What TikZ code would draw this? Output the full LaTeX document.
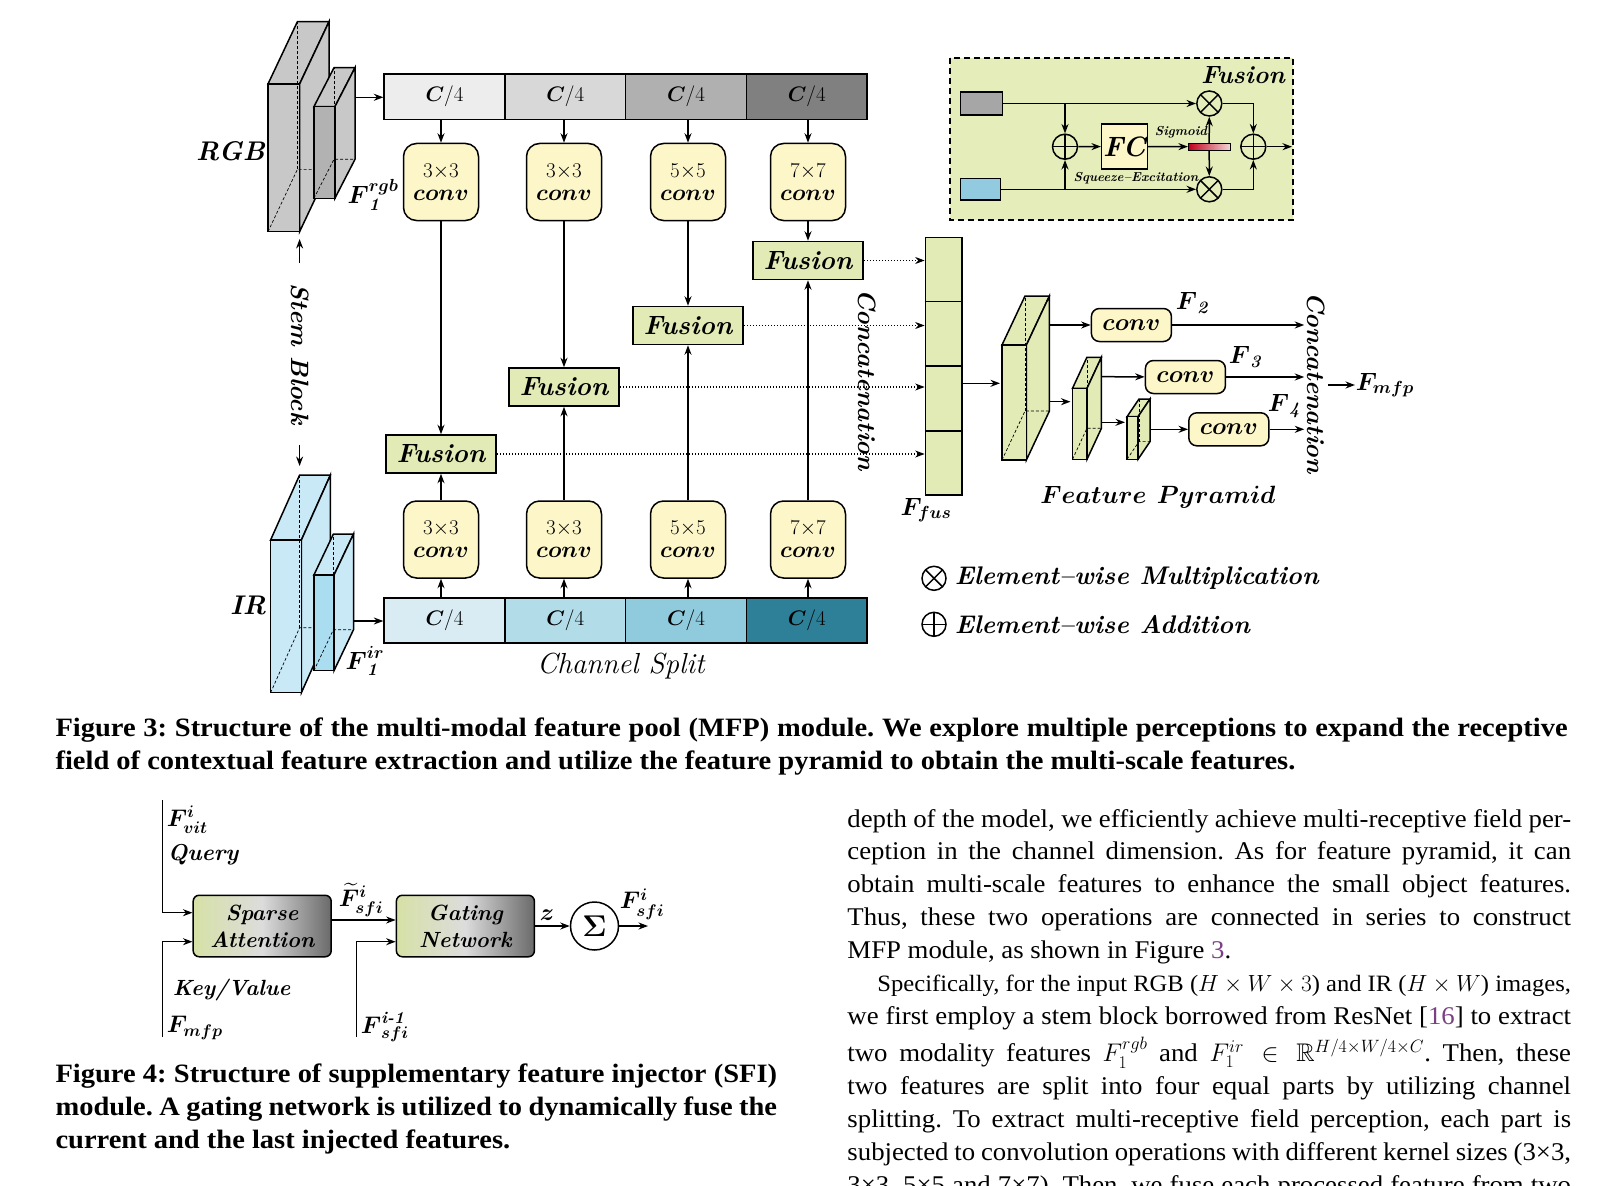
\RequirePackage{fix-cm}
\documentclass[tikz,border=0pt]{standalone}
\usepackage{amsmath,amssymb}
\usepackage{fontspec}
\newfontfamily\capfont[FakeStretch=1.075]{Liberation Serif}
\newfontfamily\bodyfont[FakeStretch=1.05]{Liberation Serif}
\usetikzlibrary{arrows.meta,calc,positioning}
\definecolor{ConvYellow}{HTML}{FCF6C9}
\definecolor{FusionGreen}{HTML}{E2EBB6}
\definecolor{InsetGreen}{HTML}{E5EEBB}
\definecolor{RgbSide}{HTML}{C8C8C8}
\definecolor{RgbFront}{HTML}{B2B2B2}
\definecolor{IrSide}{HTML}{C9E9F7}
\definecolor{IrFront}{HTML}{ABDDF1}
\definecolor{GrayA}{HTML}{EDEDED}
\definecolor{GrayB}{HTML}{D8D8D8}
\definecolor{GrayC}{HTML}{B0B0B0}
\definecolor{GrayD}{HTML}{808080}
\definecolor{BlueA}{HTML}{D9ECF4}
\definecolor{BlueB}{HTML}{B2DCE8}
\definecolor{BlueC}{HTML}{8FCBDC}
\definecolor{BlueD}{HTML}{2E8098}
\definecolor{SeGray}{HTML}{A6A6A6}
\definecolor{SeBlue}{HTML}{92CBE0}
\definecolor{SigRed}{HTML}{C0001E}
\definecolor{SigPink}{HTML}{F3D6D6}
\definecolor{GateGreen}{HTML}{D6E1A6}
\definecolor{GateMid}{HTML}{DCDCDC}
\definecolor{GateDark}{HTML}{6A6A6A}
\definecolor{RefPurple}{HTML}{7B3F84}
\newcommand\fsz[1]{\fontsize{#1}{#1}\selectfont}
\newcommand\bsub[1]{\textbf{\textit{#1}}}
\newcommand\convtxt{{\fsz{23}$\boldsymbol{conv}$}}
% front corner x,y; width; height; depth dx; rise; front fill; side fill
\newcommand\featcube[8]{%
  \filldraw[fill=#8] (#1,#2) -- ++(#5,-#6) -- ++(#3,0) -- ++(-#5,#6) -- cycle;
  \filldraw[fill=#8] ({#1+#3},#2) -- ++(#5,-#6) -- ++(0,#4) -- ++(-#5,#6) -- cycle;
  \filldraw[fill=#7] (#1,#2) rectangle ++(#3,#4);
  \draw[densely dashed,line width=0.7pt] (#1,{#2+#4}) -- ++(#5,-#6) -- ++(#3,0);
  \draw[densely dashed,line width=0.7pt] ({#1+#5},{#2+#4-#6}) -- ({#1+#5},{#2-#6});
}

\begin{document}
\frenchspacing
\begin{tikzpicture}[x=1pt,y=-1pt,line width=1.5pt,
    >={Stealth[length=9.5pt,width=7pt]},
    arr/.style={->},
    dotarr/.style={->,line width=1.2pt,dash pattern=on 1.2pt off 1.8pt},
    cellbox/.style={draw,minimum width=120.8pt,minimum height=45.3pt,inner sep=0pt,font=\fsz{21}},
    convbox/.style={draw,fill=ConvYellow,rounded corners=13pt,minimum width=75pt,minimum height=77pt,
    inner sep=0pt,align=center,font=\fontsize{21}{23}\selectfont},
    fusbox/.style={draw,fill=FusionGreen,minimum width=110pt,minimum height=38pt,inner sep=0pt,
    font=\fsz{26.5}\bfseries\itshape},
    pconv/.style={draw,fill=ConvYellow,rounded corners=8pt,minimum width=80pt,minimum height=33pt,
    inner sep=0pt,font=\fsz{24}},
    lbl/.style={font=\fsz{25}\bfseries\itshape,inner sep=2pt},
    smalllbl/.style={font=\fsz{13}\bfseries\itshape,inner sep=1pt},
    opnode/.style={circle,draw,minimum size=25pt,inner sep=0pt},
    oplus/.style={opnode,path picture={\draw (path picture bounding box.north) -- (path picture bounding box.south)
    (path picture bounding box.west) -- (path picture bounding box.east);}},
    otimes/.style={opnode,path picture={\draw (path picture bounding box.north west) -- (path picture bounding box.south east)
    (path picture bounding box.north east) -- (path picture bounding box.south west);}},
    gatebox/.style={draw,rounded corners=6pt,left color=GateGreen,right color=GateDark,middle color=GateMid,
    minimum width=138pt,minimum height=61.5pt,align=center,font=\fontsize{22}{27}\selectfont\bfseries\itshape},
    captext/.style={anchor=base west,inner sep=0pt,font=\capfont\bfseries\fsz{26.5}},
    bodytext/.style={anchor=base west,inner sep=0pt,font=\bodyfont\fsz{25.5}}]

  \fill[white] (0,0) rectangle (1621,1185);
  \useasboundingbox (0,0) rectangle (1621,1185);

  % stem features
  \featcube{268}{84}{31.6}{147.7}{29.4}{62.3}{RgbSide}{RgbSide}
  \featcube{313.9}{106.7}{21}{91.6}{20.1}{39}{RgbFront}{RgbSide}
  \featcube{270.6}{540}{30.8}{152.7}{29}{65}{IrSide}{IrSide}
  \featcube{313.9}{575}{20.1}{95.7}{19.5}{41}{IrFront}{IrSide}
  \coordinate (rgbout) at (356.3,97.3);
  \coordinate (irout) at (353.4,621);
  \node[lbl,font=\fsz{27}\bfseries\itshape] (rgb) at (230.5,151) {RGB};
  \node[lbl,font=\fsz{27}\bfseries\itshape] (ir) at (248,605) {IR};
  \node[lbl] (frgb) at (373,195) {$\boldsymbol{F}_{\bsub{1}}^{\boldsymbol{rgb}}$};
  \node[lbl] (fir) at (365,661) {$\boldsymbol{F}_{\bsub{1}}^{\boldsymbol{ir}}$};
  \node[lbl,rotate=-90,inner xsep=20pt] (stem) at (299.6,354) {Stem Block};
  \coordinate (rgbbot) at (299.6,239);
  \coordinate (irtop) at (299.6,466);
  \draw[arr] (stem.west) -- (rgbbot);
  \draw[arr] (stem.east) -- (irtop);

  % channel split
  \node[cellbox,fill=GrayA] (g1) at (444.5,96.7) {$\boldsymbol{C}/4$};
  \node[cellbox,fill=GrayB] (g2) at (565.2,96.7) {$\boldsymbol{C}/4$};
  \node[cellbox,fill=GrayC] (g3) at (686.0,96.7) {$\boldsymbol{C}/4$};
  \node[cellbox,fill=GrayD] (g4) at (806.8,96.7) {$\boldsymbol{C}/4$};
  \node[cellbox,fill=BlueA] (b1) at (444.5,620.5) {$\boldsymbol{C}/4$};
  \node[cellbox,fill=BlueB] (b2) at (565.2,620.5) {$\boldsymbol{C}/4$};
  \node[cellbox,fill=BlueC] (b3) at (686.0,620.5) {$\boldsymbol{C}/4$};
  \node[cellbox,fill=BlueD] (b4) at (806.8,620.5) {$\boldsymbol{C}/4$};
  \draw[arr] (rgbout) -- (rgbout -| g1.west);
  \draw[arr] (irout) -- (irout -| b1.west);
  \node[font=\fsz{29}\itshape] (split) at (620.8,666) {Channel Split};

  \node[convbox] (ct1) at (441,182) {$3{\times}3$\\\convtxt};
  \node[convbox] (ct2) at (564,182) {$3{\times}3$\\\convtxt};
  \node[convbox] (ct3) at (688,182) {$5{\times}5$\\\convtxt};
  \node[convbox] (ct4) at (808,182) {$7{\times}7$\\\convtxt};
  \node[convbox] (cb1) at (441,539.5) {$3{\times}3$\\\convtxt};
  \node[convbox] (cb2) at (564,539.5) {$3{\times}3$\\\convtxt};
  \node[convbox] (cb3) at (688,539.5) {$5{\times}5$\\\convtxt};
  \node[convbox] (cb4) at (808,539.5) {$7{\times}7$\\\convtxt};
  \draw[arr] (ct1 |- g1.south) -- (ct1);
  \draw[arr] (ct2 |- g2.south) -- (ct2);
  \draw[arr] (ct3 |- g3.south) -- (ct3);
  \draw[arr] (ct4 |- g4.south) -- (ct4);
  \draw[arr] (cb1 |- b1.north) -- (cb1);
  \draw[arr] (cb2 |- b2.north) -- (cb2);
  \draw[arr] (cb3 |- b3.north) -- (cb3);
  \draw[arr] (cb4 |- b4.north) -- (cb4);

  \node[fusbox] (f1) at (441,454) {Fusion};
  \node[fusbox] (f2) at (564,387) {Fusion};
  \node[fusbox] (f3) at (688,325.5) {Fusion};
  \node[fusbox] (f4) at (808,260.5) {Fusion};
  \draw[arr] (ct1) -- (f1);
  \draw[arr] (ct2) -- (f2);
  \draw[arr] (ct3) -- (f3);
  \draw[arr] (ct4) -- (f4);
  \draw[arr] (cb1) -- (f1);
  \draw[arr] (cb2) -- (f2);
  \draw[arr] (cb3) -- (f3);
  \draw[arr] (cb4) -- (f4);

  % concatenation into F_fus
  \node[draw,fill=FusionGreen,minimum width=36.4pt,minimum height=257.7pt,inner sep=0pt] (fcol) at (943.6,366.2) {};
  \foreach \k in {1,2,3}
    \draw ($(fcol.north west)!\k/4!(fcol.south west)$) -- ($(fcol.north east)!\k/4!(fcol.south east)$);
  \draw[dotarr] (f1) -- (f1 -| fcol.west);
  \draw[dotarr] (f2) -- (f2 -| fcol.west);
  \draw[dotarr] (f3) -- (f3 -| fcol.west);
  \draw[dotarr] (f4) -- (f4 -| fcol.west);
  \node[lbl,rotate=-90] (cat1) at (867.4,380) {Concatenation};
  \node[lbl] (ffus) at (926,510) {$\boldsymbol{F_{fus}}$};

  % feature pyramid
  \featcube{1002}{345}{24.4}{115}{23}{49}{FusionGreen}{FusionGreen}
  \featcube{1072.5}{388.3}{14.5}{71}{14.4}{31}{FusionGreen}{FusionGreen}
  \featcube{1127}{416.7}{11}{42.6}{12}{17.7}{FusionGreen}{FusionGreen}
  \coordinate (p1in) at (1000,383.3);
  \coordinate (p1out) at (1050,325);
  \coordinate (p2in) at (1070.5,401.7);
  \coordinate (p2out) at (1101.4,376.7);
  \coordinate (p3in) at (1125,422.3);
  \coordinate (p3out) at (1150,429.3);
  \draw[arr] (fcol.east |- p1in) -- (p1in);
  \draw[arr] (p1out |- p2in) -- (p2in);
  \draw[arr] (p2out |- p3in) -- (p3in);
  \node[pconv] (pc2) at (1131.4,325) {$\boldsymbol{conv}$};
  \node[pconv] (pc3) at (1185.4,377) {$\boldsymbol{conv}$};
  \node[pconv] (pc4) at (1228.8,429.3) {$\boldsymbol{conv}$};
  \draw[arr] (p1out) -- (pc2);
  \draw[arr] (p2out) -- (pc3);
  \draw[arr] (p3out) -- (pc4);
  \node[lbl,rotate=-90] (cat2) at (1316,383) {Concatenation};
  \draw[arr] (pc2) -- (pc2 -| cat2.south);
  \draw[arr] (pc3) -- (pc3 -| cat2.south);
  \draw[arr] (pc4) -- (pc4 -| cat2.south);
  \node[lbl] (lf2) at (1192,303) {$\boldsymbol{F}_{\bsub{2}}$};
  \node[lbl] (lf3) at (1245,357) {$\boldsymbol{F}_{\bsub{3}}$};
  \node[lbl] (lf4) at (1284,406) {$\boldsymbol{F}_{\bsub{4}}$};
  \node[lbl,anchor=west,inner sep=0pt] (fmfp) at (1355,385) {$\boldsymbol{F_{mfp}}$};
  \draw[arr] (cat2.north |- fmfp) -- (fmfp);
  \node[lbl] (pyr) at (1158,497) {$\boldsymbol{Feature\ Pyramid}$};

  % fusion inset
  \draw[fill=InsetGreen,line width=1.9pt,dash pattern=on 6pt off 4pt] (950,58.3) rectangle (1293.3,220);
  \node[lbl] (fusttl) at (1243,75) {Fusion};
  \node[draw,fill=SeGray,minimum width=42pt,minimum height=23pt,inner sep=0pt] (sgray) at (981.7,103.5) {};
  \node[draw,fill=SeBlue,minimum width=40pt,minimum height=21.7pt,inner sep=0pt] (sblue) at (980.7,189.3) {};
  \node[otimes] (m1) at (1209.3,103.5) {};
  \node[otimes] (m2) at (1209.3,189.3) {};
  \node[oplus] (a1) at (1065,146.7) {};
  \node[oplus] (a2) at (1253.3,146.7) {};
  \node[draw,fill=ConvYellow,minimum width=45.6pt,minimum height=45pt,inner sep=0pt,
    font=\fsz{28}\bfseries\itshape] (fc) at (1124.5,146.5) {FC};
  \node[draw,line width=0.8pt,minimum width=41.7pt,minimum height=6.7pt,inner sep=0pt,
    left color=SigRed,right color=SigPink] (sig) at (1209.2,146.7) {};
  \coordinate (insetr) at (1292,146.7);
  \draw[arr] (sgray) -- (m1);
  \draw[arr] (sblue) -- (m2);
  \draw[arr] (a1 |- sgray) -- (a1);
  \draw[arr] (a1 |- sblue) -- (a1);
  \draw[arr] (a1) -- (fc);
  \draw[arr] (fc) -- (sig);
  \draw[arr] (sig) -- (m1);
  \draw[arr] (sig) -- (m2);
  \draw[arr] (m1) -| (a2);
  \draw[arr] (m2) -| (a2);
  \draw[arr] (a2) -- (insetr);
  \node[smalllbl] (sigtxt) at (1181,132) {Sigmoid};
  \node[smalllbl] (setxt) at (1136,178) {Squeeze--Excitation};

  % legend
  \node[otimes,minimum size=24pt] (lmul) at (934,578.3) {};
  \node[oplus,minimum size=24pt] (ladd) at (934,624.3) {};
  \node[lbl,anchor=west,font=\fsz{25.5}\bfseries\itshape] (lmultxt) at (952,578.3) {Element--wise Multiplication};
  \node[lbl,anchor=west,font=\fsz{25.5}\bfseries\itshape] (laddtxt) at (952,624.3) {Element--wise Addition};

  % SFI module
  \node[gatebox] (sa) at (262.2,926) {Sparse\\Attention};
  \node[gatebox] (gn) at (465.4,926) {Gating\\Network};
  \node[circle,draw,minimum size=48pt,inner sep=0pt,font=\fsz{30}] (sigma) at (594.5,926) {$\boldsymbol{\Sigma}$};
  \coordinate (qtop) at (162.4,800);
  \coordinate (kvbot) at (162.4,1036.7);
  \coordinate (prevbot) at (356.3,1036.7);
  \coordinate (fout) at (648,926);
  \draw[arr] (qtop) |- ([yshift=13.3pt]sa.west);
  \draw[arr] (kvbot) |- ([yshift=-15.7pt]sa.west);
  \draw[arr] ([yshift=6pt]sa.east) -- ([yshift=6pt]gn.west);
  \draw[arr] (prevbot) |- ([yshift=-15.7pt]gn.west);
  \draw[arr] (gn) -- (sigma);
  \draw[arr] (sigma) -- (fout);
  \node[lbl,anchor=west,font=\fsz{24}\bfseries\itshape] (fvit) at (164,820) {$\boldsymbol{F^{i}_{vit}}$};
  \node[lbl,anchor=west,font=\fsz{23}\bfseries\itshape] (query) at (165,855) {Query};
  \node[lbl,anchor=west,font=\fsz{22}\bfseries\itshape] (kv) at (170,990) {Key/Value};
  \node[lbl,anchor=west,font=\fsz{24}\bfseries\itshape] (fmfpin) at (164,1028) {$\boldsymbol{F_{mfp}}$};
  \node[lbl,inner sep=0pt,font=\fsz{24}\bfseries\itshape] (ftil) at (361,900) {$\boldsymbol{\widetilde{F}^{i}_{sfi}}$};
  \node[lbl,anchor=west,font=\fsz{24}\bfseries\itshape] (fprev) at (358,1027) {$\boldsymbol{F}^{\bsub{i-1}}_{\boldsymbol{sfi}}$};
  \node[lbl,font=\fsz{24}\bfseries\itshape] (zlbl) at (547,915) {$\boldsymbol{z}$};
  \node[lbl,font=\fsz{24}\bfseries\itshape] (fsfi) at (642,904) {$\boldsymbol{F^{i}_{sfi}}$};

  % captions
  \node[captext] (cap3a) at (54.8,736) {\makebox[1512pt][s]{Figure 3: Structure of the multi-modal feature pool (MFP) module. We explore multiple perceptions to expand the receptive}};
  \node[captext] (cap3b) at (54.8,769) {field of contextual feature extraction and utilize the feature pyramid to obtain the multi-scale features.};
  \node[captext] (cap4a) at (54.8,1082) {\makebox[721.6pt][s]{Figure 4: Structure of supplementary feature injector (SFI)}};
  \node[captext] (cap4b) at (54.8,1115) {\makebox[721.6pt][s]{module. A gating network is utilized to dynamically fuse the}};
  \node[captext] (cap4c) at (54.8,1148) {current and the last injected features.};

  % body text
  \node[bodytext] (t1) at (846.7,827) {\makebox[723.6pt][s]{depth of the model, we efficiently achieve multi-receptive field per-}};
  \node[bodytext] (t2) at (846.7,859.9) {\makebox[723.6pt][s]{ception in the channel dimension. As for feature pyramid, it can}};
  \node[bodytext] (t3) at (846.7,892.8) {\makebox[723.6pt][s]{obtain multi-scale features to enhance the small object features.}};
  \node[bodytext] (t4) at (846.7,925.7) {\makebox[723.6pt][s]{Thus, these two operations are connected in series to construct}};
  \node[bodytext] (t5) at (846.7,958.6) {MFP module, as shown in Figure \textcolor{RefPurple}{3}.};
  \node[bodytext] (t6) at (876.7,991.5) {\resizebox{693.6pt}{!}{Specifically, for the input RGB ($H\times W\times 3$) and IR ($H\times W$) images,}};
  \node[bodytext] (t7) at (846.7,1024.4) {\makebox[723.6pt][s]{we first employ a stem block borrowed from ResNet [\textcolor{RefPurple}{16}] to extract}};
  \node[bodytext] (t8) at (846.7,1061.4) {\makebox[723.6pt][s]{two modality features $F_1^{rgb}$ and $F_1^{ir}\in\mathbb{R}^{H/4\times W/4\times C}$. Then, these}};
  \node[bodytext] (t9) at (846.7,1094.3) {\makebox[723.6pt][s]{two features are split into four equal parts by utilizing channel}};
  \node[bodytext] (t10) at (846.7,1127.2) {\makebox[723.6pt][s]{splitting. To extract multi-receptive field perception, each part is}};
  \node[bodytext] (t11) at (846.7,1160.1) {\makebox[723.6pt][s]{subjected to convolution operations with different kernel sizes (3×3,}};
  \node[bodytext] (t12) at (846.7,1193) {\makebox[723.6pt][s]{3×3, 5×5 and 7×7). Then, we fuse each processed feature from two}};
\end{tikzpicture}
\end{document}
